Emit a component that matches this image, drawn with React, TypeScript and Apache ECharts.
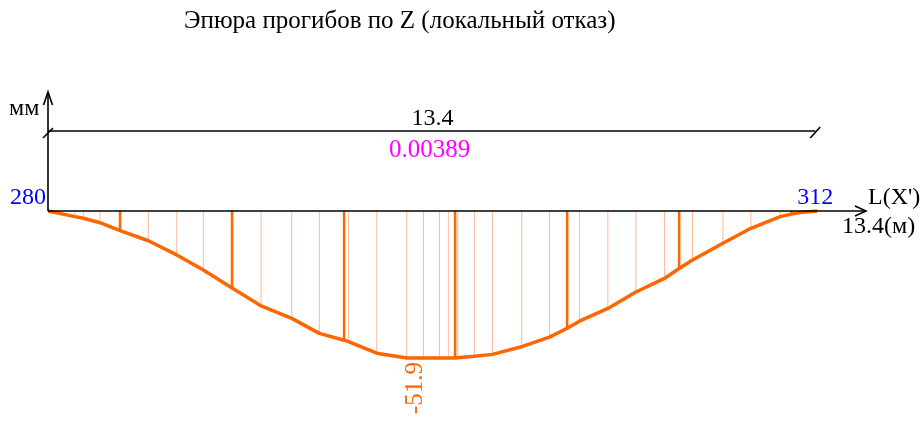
import React, { useEffect, useRef } from "react";
import * as echarts from "echarts";

const TITLE = "Эпюра прогибов по Z (локальный отказ)";
const SPAN = 13.4; // m
const SPAN_LABEL = "13.4";
const RATIO_LABEL = "0.00389";
const START_NODE = "280";
const END_NODE = "312";
const Y_UNIT = "мм";
const X_NAME = "L(X')";
const X_END_LABEL = "13.4(м)";
const MIN_LABEL = "-51.9";

// stations along the span (m) and deflection (mm)
const positions = [
  0, 0.47, 0.615, 0.906, 1.255, 1.748, 2.243, 2.706, 3.206, 3.712, 4.246, 4.727,
  5.158, 5.233, 5.728, 6.25, 6.54, 6.819, 6.975, 7.092, 7.139, 7.428, 7.742,
  8.254, 8.735, 9.044, 9.258, 9.753, 10.241, 10.739, 10.995, 11.227, 11.757,
  12.245, 12.755, 12.947, 13.104, 13.4,
];
const deflections = [
  0, -1.98, -2.58, -4.13, -6.9, -10.5, -15.5, -20.8, -27.2, -33.5, -37.9, -43.2,
  -45.6, -46.1, -50.2, -51.9, -51.9, -51.9, -51.9, -51.9, -51.8, -51.3, -50.6,
  -47.9, -44.5, -41.4, -38.9, -34.4, -28.6, -23.8, -20.3, -17.3, -11.4,
  -6.1, -2.0, -1.1, -0.5, 0,
];
// true where the station is a node of the element mesh
const isNode = [
  false, false, false, false, true, false, false, false, true, false, false, false,
  true, false, false, false, false, false, false, true, false, false, false,
  false, false, true, false, false, false, false, true, false, false,
  false, false, true, false, false,
];

const ORANGE = "#FF6600";
const LIGHT = "#FFB898";
const FONT = "'Liberation Serif', 'Times New Roman', Times, 'DejaVu Serif', serif";

export default function App() {
  const ref = useRef<HTMLDivElement>(null);
  useEffect(() => {
    if (!ref.current) return;
    const chart = echarts.init(ref.current, undefined, { renderer: "svg" });
    const curve = positions.map((x, i) => [x, deflections[i]]);
    const verts = positions
      .map((x, i) => [x, deflections[i], isNode[i] ? 1 : 0])
      .filter((d, i) => i > 0 && i < positions.length - 1);
    chart.setOption({
      animation: false,
      title: {
        text: TITLE,
        left: 179,
        top: 2,
        textStyle: { fontFamily: FONT, fontSize: 25, fontWeight: "normal", color: "#000" },
      },
      grid: { left: 48, top: 92, width: 818, height: 289 },
      xAxis: { type: "value", min: 0, max: 14.25, show: false },
      yAxis: { type: "value", min: -60, max: 42, show: false },
      series: [
        {
          type: "custom",
          data: verts,
          renderItem: (params: any, api: any) => {
            const x = api.value(0);
            const y = api.value(1);
            const node = api.value(2) === 1;
            const a = api.coord([x, 0]);
            const b = api.coord([x, y]);
            return {
              type: "line",
              shape: { x1: a[0], y1: a[1], x2: b[0], y2: b[1] },
              style: { stroke: node ? ORANGE : LIGHT, lineWidth: node ? 2.5 : 1 },
            };
          },
          z: 1,
        },
        {
          type: "line",
          data: curve,
          symbol: "none",
          lineStyle: { color: ORANGE, width: 3.5 },
          z: 2,
        },
      ],
    });

    const p0 = chart.convertToPixel({ gridIndex: 0 }, [0, 0]) as number[];
    const pL = chart.convertToPixel({ gridIndex: 0 }, [SPAN, 0]) as number[];
    let minI = 0;
    deflections.forEach((v, i) => {
      if (v < deflections[minI]) minI = i;
    });
    const pm = chart.convertToPixel({ gridIndex: 0 }, [positions[minI], deflections[minI]]) as number[];
    const x0 = p0[0];
    const y0 = p0[1];
    const xL = pL[0];
    const xe = x0 + 818;
    const dy = y0 - 80;
    const blk = { stroke: "#000", lineWidth: 1.6 };
    const txt = (text: string, x: number, y: number, color: string, align: string, rotation = 0, size = 24) => ({
      type: "text",
      x,
      y,
      rotation,
      z: 10,
      style: { text, fill: color, fontFamily: FONT, fontSize: size, align, verticalAlign: "middle" },
    });
    chart.setOption({
      graphic: [
        { type: "line", shape: { x1: x0, y1: y0, x2: x0, y2: y0 - 119 }, style: blk, z: 5 },
        { type: "polyline", shape: { points: [[x0 - 4.5, y0 - 106], [x0, y0 - 119], [x0 + 4.5, y0 - 106]] }, style: { ...blk, fill: null }, z: 5 },
        { type: "line", shape: { x1: x0, y1: y0, x2: xe, y2: y0 }, style: blk, z: 5 },
        { type: "polyline", shape: { points: [[xe - 11, y0 - 5], [xe, y0], [xe - 11, y0 + 5]] }, style: { ...blk, fill: null }, z: 5 },
        { type: "line", shape: { x1: x0, y1: dy, x2: xL - 2, y2: dy }, style: blk, z: 5 },
        { type: "line", shape: { x1: x0 - 5, y1: dy + 7, x2: x0 + 5, y2: dy - 3 }, style: blk, z: 5 },
        { type: "line", shape: { x1: xL - 7, y1: dy + 7, x2: xL + 3, y2: dy - 4 }, style: blk, z: 5 },
        txt(SPAN_LABEL, (x0 + xL) / 2, dy - 14, "#000", "center"),
        txt(RATIO_LABEL, (x0 + xL) / 2 - 3, dy + 17, "#FF00FF", "center", 0, 25),
        txt(START_NODE, x0 - 2, y0 - 15, "#0000FF", "right"),
        txt(END_NODE, xL - 2, y0 - 15, "#0000FF", "center"),
        txt(X_NAME, xe + 2, y0 - 15, "#000", "left"),
        txt(X_END_LABEL, xe - 24, y0 + 14, "#000", "left"),
        txt(Y_UNIT, x0 - 39, y0 - 104, "#000", "left"),
        txt(MIN_LABEL, pm[0] + 7, pm[1] + 4, ORANGE, "right", Math.PI / 2, 25),
      ],
    });
    return () => chart.dispose();
  }, []);
  return (
    <div
      ref={ref}
      style={{ position: "fixed", left: 0, top: 0, width: 922, height: 437 }}
    />
  );
}
